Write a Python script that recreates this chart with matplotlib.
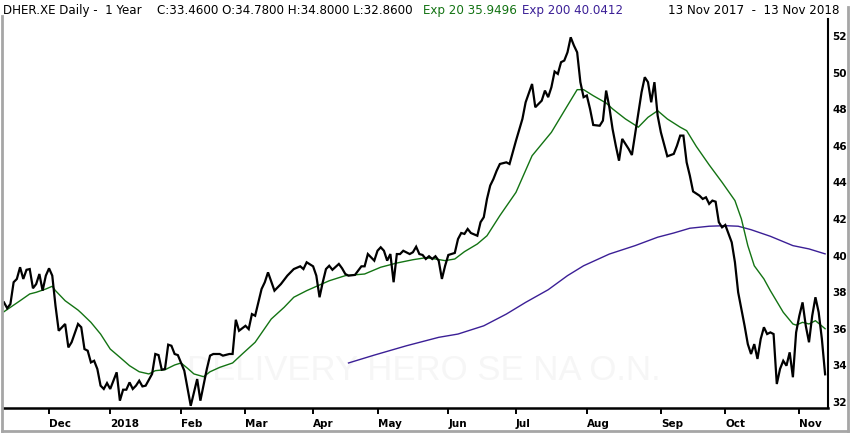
import numpy as np
import pandas as pd
import matplotlib
matplotlib.use("Agg")
import matplotlib.pyplot as plt
from matplotlib.lines import Line2D

# trading calendar (XETRA) for the shown year
holidays = ["2017-12-25", "2017-12-26", "2018-01-01", "2018-03-30", "2018-04-02", "2018-05-01"]
month_labels = ["Dec", "2018", "Feb", "Mar", "Apr", "May", "Jun", "Jul", "Aug", "Sep", "Oct", "Nov"]

# close prices
price_dates = [
    "2017-11-13", "2017-11-14", "2017-11-15", "2017-11-16", "2017-11-17", "2017-11-20", "2017-11-21",
    "2017-11-22", "2017-11-23", "2017-11-24", "2017-11-27", "2017-11-28", "2017-11-29", "2017-11-30",
    "2017-12-01", "2017-12-04", "2017-12-05", "2017-12-06", "2017-12-08", "2017-12-11", "2017-12-12",
    "2017-12-14", "2017-12-15", "2017-12-18", "2017-12-19", "2017-12-20", "2017-12-21", "2017-12-22",
    "2017-12-27", "2017-12-28", "2017-12-29", "2018-01-02", "2018-01-04", "2018-01-05", "2018-01-08",
    "2018-01-09", "2018-01-10", "2018-01-11", "2018-01-12", "2018-01-15", "2018-01-16", "2018-01-17",
    "2018-01-19", "2018-01-22", "2018-01-23", "2018-01-24", "2018-01-25", "2018-01-26", "2018-01-29",
    "2018-01-30", "2018-01-31", "2018-02-02", "2018-02-06", "2018-02-08", "2018-02-09", "2018-02-13",
    "2018-02-14", "2018-02-15", "2018-02-19", "2018-02-20", "2018-02-22", "2018-02-23", "2018-02-26",
    "2018-02-27", "2018-03-01", "2018-03-02", "2018-03-05", "2018-03-06", "2018-03-08", "2018-03-09",
    "2018-03-12", "2018-03-14", "2018-03-16", "2018-03-20", "2018-03-22", "2018-03-26", "2018-03-27",
    "2018-03-28", "2018-04-03", "2018-04-04", "2018-04-05", "2018-04-06", "2018-04-09", "2018-04-10",
    "2018-04-11", "2018-04-13", "2018-04-16", "2018-04-17", "2018-04-18", "2018-04-20", "2018-04-24",
    "2018-04-25", "2018-04-26", "2018-04-30", "2018-05-02", "2018-05-03", "2018-05-04", "2018-05-07",
    "2018-05-08", "2018-05-09", "2018-05-10", "2018-05-11", "2018-05-14", "2018-05-16", "2018-05-17",
    "2018-05-18", "2018-05-21", "2018-05-22", "2018-05-23", "2018-05-24", "2018-05-25", "2018-05-28",
    "2018-05-29", "2018-05-30", "2018-05-31", "2018-06-01", "2018-06-05", "2018-06-06", "2018-06-07",
    "2018-06-08", "2018-06-11", "2018-06-12", "2018-06-14", "2018-06-15", "2018-06-18", "2018-06-19",
    "2018-06-20", "2018-06-21", "2018-06-22", "2018-06-25", "2018-06-27", "2018-06-28", "2018-06-29",
    "2018-07-02", "2018-07-04", "2018-07-05", "2018-07-09", "2018-07-10", "2018-07-12", "2018-07-13",
    "2018-07-16", "2018-07-17", "2018-07-18", "2018-07-19", "2018-07-20", "2018-07-23", "2018-07-24",
    "2018-07-25", "2018-07-26", "2018-07-27", "2018-07-30", "2018-07-31", "2018-08-01", "2018-08-02",
    "2018-08-03", "2018-08-07", "2018-08-08", "2018-08-09", "2018-08-10", "2018-08-13", "2018-08-14",
    "2018-08-15", "2018-08-16", "2018-08-20", "2018-08-21", "2018-08-22", "2018-08-24", "2018-08-27",
    "2018-08-28", "2018-08-29", "2018-08-30", "2018-08-31", "2018-09-03", "2018-09-05", "2018-09-07",
    "2018-09-10", "2018-09-11", "2018-09-12", "2018-09-13", "2018-09-14", "2018-09-17", "2018-09-19",
    "2018-09-20", "2018-09-21", "2018-09-24", "2018-09-25", "2018-09-26", "2018-09-27", "2018-09-28",
    "2018-10-01", "2018-10-03", "2018-10-04", "2018-10-05", "2018-10-09", "2018-10-10", "2018-10-11",
    "2018-10-12", "2018-10-15", "2018-10-16", "2018-10-17", "2018-10-18", "2018-10-19", "2018-10-22",
    "2018-10-23", "2018-10-24", "2018-10-25", "2018-10-26", "2018-10-29", "2018-10-30", "2018-10-31",
    "2018-11-01", "2018-11-02", "2018-11-05", "2018-11-06", "2018-11-07", "2018-11-08", "2018-11-09",
    "2018-11-12", "2018-11-13",
]
price_close = [
    37.39, 37.07, 37.30, 38.49, 38.67, 39.31, 38.67,
    39.17, 39.21, 38.16, 38.39, 38.94, 38.03, 38.85,
    39.25, 38.85, 37.21, 35.84, 36.21, 34.93, 35.21,
    36.21, 36.03, 34.84, 34.75, 34.11, 34.20, 33.75,
    32.84, 32.66, 32.98, 32.66, 33.57, 32.02, 32.62,
    32.62, 33.02, 32.66, 32.84, 33.11, 32.80, 32.84,
    33.48, 34.57, 34.51, 33.71, 33.75, 35.08, 35.02,
    34.57, 34.51, 33.66, 31.74, 33.20, 32.02, 33.75,
    34.48, 34.57, 34.57, 34.48, 34.57, 34.57, 36.44,
    35.84, 36.11, 35.93, 36.75, 36.66, 38.12, 38.49,
    39.03, 38.03, 38.39, 38.85, 39.21, 39.36, 39.21,
    39.58, 39.36, 38.85, 37.67, 38.49, 39.21, 39.39,
    39.17, 39.49, 39.25, 38.94, 38.85, 38.89, 39.36,
    39.36, 40.03, 39.67, 40.21, 40.40, 40.21, 39.67,
    40.03, 38.49, 40.03, 40.03, 40.21, 40.03, 40.13,
    40.43, 40.03, 39.98, 39.76, 39.91, 39.76, 39.91,
    39.67, 38.67, 39.39, 39.98, 40.09, 40.85, 41.18,
    41.13, 41.40, 41.18, 41.03, 41.77, 42.04, 43.04,
    43.77, 44.13, 44.58, 44.95, 45.04, 44.95, 45.59,
    46.22, 47.41, 48.32, 49.32, 48.05, 48.41, 48.96,
    48.60, 49.14, 50.00, 49.87, 50.51, 50.60, 51.05,
    51.87, 51.42, 51.05, 49.42, 48.60, 48.69, 47.96,
    47.08, 47.04, 47.32, 48.96, 48.05, 46.86, 45.95,
    45.13, 46.32, 45.77, 45.44, 46.59, 48.87, 49.69,
    49.42, 48.32, 49.42, 47.59, 46.68, 45.37, 45.50,
    45.95, 46.50, 46.50, 45.04, 44.31, 43.45, 43.22,
    43.04, 43.13, 42.77, 42.95, 42.89, 41.77, 41.49,
    41.62, 40.67, 39.58, 37.94, 36.11, 35.11, 34.57,
    35.11, 34.30, 35.39, 36.03, 35.66, 35.75, 35.66,
    32.93, 33.75, 34.20, 33.93, 34.66, 33.30, 35.75,
    36.66, 37.39, 36.11, 35.21, 36.66, 37.67, 36.85,
    35.39, 33.46,
]

# exponential moving average, 20 days
ema20_dates = [
    "2017-11-13", "2017-11-20", "2017-11-23", "2017-11-27", "2017-11-30", "2017-12-04", "2017-12-05",
    "2017-12-08", "2017-12-14", "2017-12-15", "2017-12-20", "2017-12-27", "2018-01-02", "2018-01-05",
    "2018-01-10", "2018-01-15", "2018-01-18", "2018-01-22", "2018-01-25", "2018-01-30", "2018-02-01",
    "2018-02-05", "2018-02-07", "2018-02-12", "2018-02-14", "2018-02-19", "2018-02-23", "2018-02-28",
    "2018-03-06", "2018-03-13", "2018-03-19", "2018-03-22", "2018-03-28", "2018-04-05", "2018-04-10",
    "2018-04-17", "2018-04-25", "2018-05-03", "2018-05-10", "2018-05-17", "2018-05-23", "2018-05-28",
    "2018-05-31", "2018-06-05", "2018-06-08", "2018-06-14", "2018-06-19", "2018-06-25", "2018-07-02",
    "2018-07-09", "2018-07-17", "2018-07-24", "2018-07-27", "2018-07-31", "2018-08-03", "2018-08-09",
    "2018-08-13", "2018-08-17", "2018-08-23", "2018-08-28", "2018-08-31", "2018-09-05", "2018-09-11",
    "2018-09-13", "2018-09-18", "2018-09-24", "2018-09-28", "2018-10-04", "2018-10-08", "2018-10-10",
    "2018-10-12", "2018-10-17", "2018-10-19", "2018-10-25", "2018-10-30", "2018-10-31", "2018-11-02",
    "2018-11-06", "2018-11-08", "2018-11-13",
]
ema20_vals = [
    36.88, 37.48, 37.85, 37.94, 38.12, 38.27, 38.03,
    37.48, 36.97, 36.81, 36.30, 35.66, 34.84, 34.39,
    33.93, 33.60, 33.48, 33.66, 33.71, 33.97, 34.08,
    33.79, 33.48, 33.33, 33.60, 33.84, 34.08, 34.57,
    35.21, 36.48, 37.12, 37.67, 38.03, 38.34, 38.57,
    38.85, 38.94, 39.31, 39.54, 39.72, 39.83, 39.76,
    39.67, 39.76, 40.16, 40.58, 41.03, 42.13, 43.40,
    45.40, 46.68, 48.14, 49.01, 49.01, 48.68, 48.28,
    47.96, 47.41, 46.96, 47.50, 47.86, 47.41, 46.96,
    46.77, 45.91, 44.90, 43.95, 42.95, 41.95, 40.49,
    39.39, 38.67, 38.03, 36.85, 36.21, 36.15, 36.30,
    36.21, 36.39, 35.95,
]

# exponential moving average, 200 days
ema200_dates = [
    "2018-04-18", "2018-04-30", "2018-05-15", "2018-05-29", "2018-06-06", "2018-06-18", "2018-06-27",
    "2018-07-05", "2018-07-16", "2018-07-24", "2018-07-31", "2018-08-10", "2018-08-22", "2018-08-31",
    "2018-09-07", "2018-09-14", "2018-09-24", "2018-10-01", "2018-10-05", "2018-10-11", "2018-10-19",
    "2018-10-30", "2018-11-06", "2018-11-13",
]
ema200_vals = [
    34.08, 34.51, 35.02, 35.48, 35.66, 36.11, 36.75,
    37.39, 38.08, 38.85, 39.39, 40.03, 40.49, 40.95,
    41.18, 41.44, 41.55, 41.58, 41.55, 41.36, 41.00,
    40.49, 40.31, 40.04,
]

days = pd.bdate_range("2017-11-13", "2018-11-13")
days = days[~days.isin(pd.to_datetime(holidays))]


def to_pos(dates):
    return days.get_indexer(pd.to_datetime(dates))


month_starts = days.to_series().groupby(days.to_period("M")).first().values[1:]
tick_pos = days.get_indexer(pd.to_datetime(month_starts))

W, H = 850, 435
fig = plt.figure(figsize=(W / 100, H / 100), dpi=100)
fig.patch.set_facecolor("white")
plt.rcParams["font.family"] = ["DejaVu Sans"]

ax = fig.add_axes([3 / W, (H - 409) / H, 825 / W, 389 / H])
ax.set_facecolor("white")

ax.text(0.51, 0.1, "DELIVERY HERO SE NA O.N.", transform=ax.transAxes, ha="center", va="center",
        fontsize=25, color="#f6f6f6", zorder=0, family=["Liberation Sans Narrow", "Liberation Sans"])

ax.plot(to_pos(ema200_dates), ema200_vals, color="#3b1f96", lw=1.0, zorder=2)
ax.plot(to_pos(ema20_dates), ema20_vals, color="#137313", lw=1.0, zorder=3)
ax.plot(to_pos(price_dates), price_close, color="black", lw=1.6, zorder=4, solid_joinstyle="miter")

ax.set_xlim(-0.3, 255.9)
ax.set_ylim(31.62, 52.87)

for s in ["left", "top"]:
    ax.spines[s].set_visible(False)
ax.spines["bottom"].set_linewidth(1.8)
ax.spines["right"].set_linewidth(1.5)

ax.set_xticks(tick_pos)
ax.set_xticklabels(month_labels, ha="left", fontsize=7.5, fontweight="bold")
ax.tick_params(axis="x", direction="out", length=4, width=1.4, pad=3.5, colors="black")

ax.yaxis.tick_right()
ax.set_yticks(np.arange(32, 53, 2))
ax.set_yticklabels([str(v) for v in range(32, 53, 2)], fontsize=7.5, fontweight="bold")
ax.tick_params(axis="y", length=0, pad=3)

# header line
base = 1 - 14 / H
fig.text(3 / W, base, "DHER.XE Daily -  1 Year", fontsize=8.6, color="black", va="baseline")
fig.text(157 / W, base, "C:33.4600 O:34.7800 H:34.8000 L:32.8600", fontsize=8.6, color="black",
         va="baseline")
fig.text(423 / W, base, "Exp 20 35.9496", fontsize=8.6, color="#137313", va="baseline")
fig.text(522 / W, base, "Exp 200 40.0412", fontsize=8.6, color="#3b1f96", va="baseline")
fig.text(839 / W, base, "13 Nov 2017  -  13 Nov 2018", fontsize=8.6, color="black",
         va="baseline", ha="right")

# grey frame round the chart
frame = "#a6a6a6"
fig.add_artist(Line2D([1.5 / W, 1.5 / W], [1 - 17 / H, 1 - 432 / H], color=frame, lw=2))
fig.add_artist(Line2D([848 / W, 848 / W], [1 - 8 / H, 1 - 432 / H], color=frame, lw=2))
fig.add_artist(Line2D([1.5 / W, 848 / W], [1 - 432 / H, 1 - 432 / H], color=frame, lw=2))

fig.savefig("out.png", dpi=100)
